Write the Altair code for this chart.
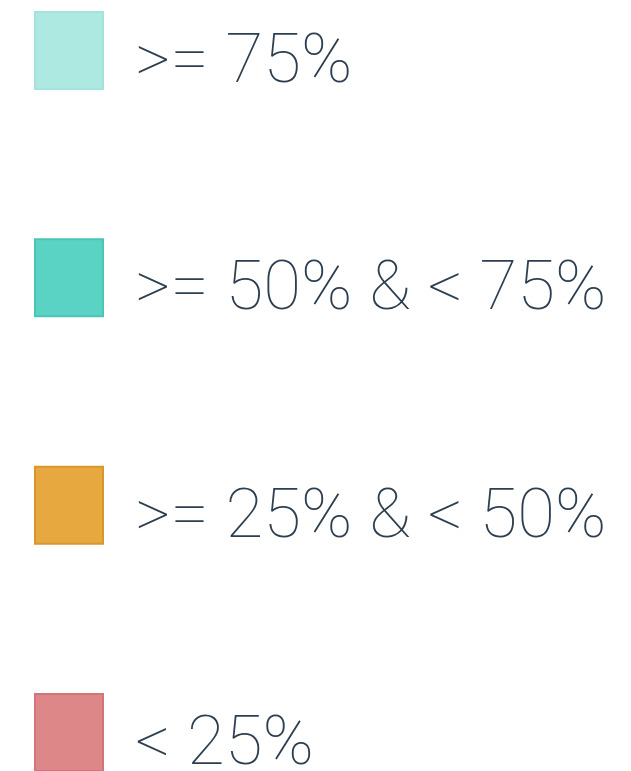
import altair as alt
import pandas as pd

categories = [">= 75%", ">= 50% & < 75%", ">= 25% & < 50%", "< 25%"]
fills = ["#ade8e1", "#5bd3c4", "#e7a840", "#dd8789"]
strokes = ["#a3e3dc", "#4cc5b5", "#d9962c", "#d27479"]

df = pd.DataFrame({"label": categories})

y_enc = alt.Y(
    "label:N",
    sort=categories,
    scale=alt.Scale(domain=categories, range=[4, 763], paddingInner=0.6613, paddingOuter=0),
    axis=None,
)

boxes = alt.Chart(df).mark_rect(strokeWidth=2).encode(
    y=y_enc,
    x=alt.value(27),
    x2=alt.value(95),
    fill=alt.Fill("label:N", scale=alt.Scale(domain=categories, range=fills), legend=None),
    stroke=alt.Stroke("label:N", scale=alt.Scale(domain=categories, range=strokes), legend=None),
)

labels = alt.Chart(df).mark_text(
    align="left",
    baseline="alphabetic",
    dy=31.5,
    font="Roboto",
    fontWeight=100,
    fontSize=69,
    color="#2c3e50",
).encode(
    y=y_enc,
    x=alt.value(127),
    text="label:N",
)

chart = (
    alt.layer(boxes, labels)
    .properties(width=615, height=763, padding=0, autosize="none", background="white")
    .configure_view(stroke=None)
)

chart.save("out.html", embed_options={"renderer": "svg", "actions": False})
